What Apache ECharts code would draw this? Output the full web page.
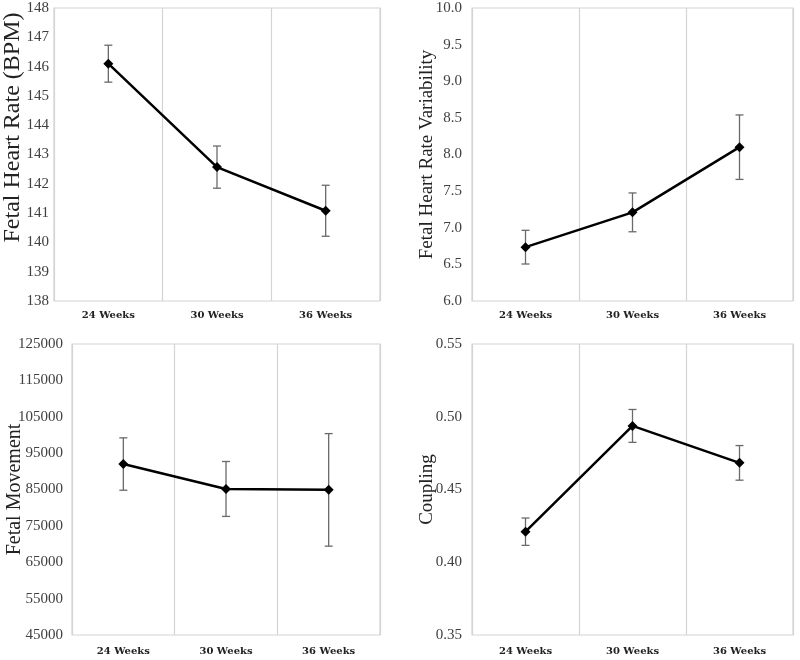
<!DOCTYPE html>
<html>
<head>
<meta charset="utf-8">
<script src="https://cdn.jsdelivr.net/npm/echarts@6/dist/echarts.min.js"></script>
<style>
  html, body { margin: 0; padding: 0; background: #fff; }
  #chart { width: 800px; height: 660px; }
</style>
</head>
<body>
<div id="chart"></div>
<script>
const categories = ['24 Weeks', '30 Weeks', '36 Weeks'];

// means and error half-widths
const hrMean = [146.1, 142.57, 141.08];
const hrErr = [0.63, 0.72, 0.87];
const hrvMean = [6.735, 7.21, 8.10];
const hrvErr = [0.23, 0.265, 0.44];
const moveMean = [92000, 85150, 84900];
const moveErr = [7200, 7550, 15470];
const coupMean = [0.421, 0.4937, 0.4683];
const coupErr = [0.0094, 0.0113, 0.0119];

// [min, max, interval, decimals]
const hrAxis = [138, 148, 1, 0];
const hrvAxis = [6, 10, 0.5, 1];
const moveAxis = [45000, 125000, 10000, 0];
const coupAxis = [0.35, 0.55, 0.05, 2];

const titles = ['Fetal Heart Rate (BPM)', 'Fetal Heart Rate Variability', 'Fetal Movement', 'Coupling'];

const panels = [
  { mean: hrMean, err: hrErr, axis: hrAxis, grid: { left: 54, right: 420, top: 8, bottom: 359 }, gap: 29, size: 24, pad: [0, 0, 0, 54], lm: 5, xm: 9 },
  { mean: hrvMean, err: hrvErr, axis: hrvAxis, grid: { left: 472, right: 7, top: 8, bottom: 359 }, gap: 35, size: 19, pad: 0, lm: 10, xm: 9 },
  { mean: moveMean, err: moveErr, axis: moveAxis, grid: { left: 72, right: 420, top: 344, bottom: 25 }, gap: 47, size: 20, pad: 0, lm: 9, xm: 11 },
  { mean: coupMean, err: coupErr, axis: coupAxis, grid: { left: 472, right: 7, top: 344, bottom: 25 }, gap: 35, size: 19, pad: 0, lm: 10, xm: 11 }
];

const gridLine = '#d4d4d4';

const errorBars = (params, api) => {
  const x = api.value(0);
  const lo = api.coord([x, api.value(1)]);
  const hi = api.coord([x, api.value(2)]);
  const cap = 4;
  const style = { stroke: '#6a6a6a', lineWidth: 1.3 };
  return {
    type: 'group',
    children: [
      { type: 'line', shape: { x1: lo[0], y1: lo[1], x2: hi[0], y2: hi[1] }, style },
      { type: 'line', shape: { x1: lo[0] - cap, y1: lo[1], x2: lo[0] + cap, y2: lo[1] }, style },
      { type: 'line', shape: { x1: hi[0] - cap, y1: hi[1], x2: hi[0] + cap, y2: hi[1] }, style }
    ]
  };
};

const option = {
  backgroundColor: '#fff',
  animation: false,
  grid: panels.map(p => Object.assign({ show: true, borderColor: gridLine, borderWidth: 1.2, backgroundColor: '#fff' }, p.grid)),
  xAxis: panels.map((p, i) => ({
    type: 'category',
    gridIndex: i,
    data: categories,
    boundaryGap: true,
    axisLine: { show: false },
    axisTick: { show: false },
    splitLine: { show: true, lineStyle: { color: gridLine, width: 1.2 } },
    axisLabel: {
      margin: p.xm,
      color: '#222',
      fontFamily: 'DejaVu Serif',
      fontWeight: 'bold',
      fontSize: 10
    }
  })),
  yAxis: panels.map((p, i) => ({
    type: 'value',
    gridIndex: i,
    min: p.axis[0],
    max: p.axis[1],
    interval: p.axis[2],
    name: titles[i],
    nameLocation: 'middle',
    nameGap: p.gap,
    nameMoveOverlap: false,
    nameTextStyle: {
      fontFamily: 'Liberation Serif',
      fontSize: p.size,
      color: '#222',
      padding: p.pad
    },
    axisLine: { show: false },
    axisTick: { show: false },
    splitLine: { show: false },
    axisLabel: {
      margin: p.lm,
      color: '#404040',
      fontFamily: 'Liberation Serif',
      fontSize: 15,
      formatter: v => v.toFixed(p.axis[3])
    }
  })),
  series: panels.flatMap((p, i) => [
    {
      type: 'custom',
      xAxisIndex: i,
      yAxisIndex: i,
      renderItem: errorBars,
      data: p.mean.map((m, k) => [k, m - p.err[k], m + p.err[k]]),
      z: 2
    },
    {
      type: 'line',
      xAxisIndex: i,
      yAxisIndex: i,
      data: p.mean,
      symbol: 'diamond',
      symbolSize: 10,
      itemStyle: { color: '#000' },
      lineStyle: { color: '#000', width: 2.5 },
      z: 3
    }
  ])
};

const myChart = echarts.init(document.getElementById('chart'));
myChart.setOption(option);
</script>
</body>
</html>
